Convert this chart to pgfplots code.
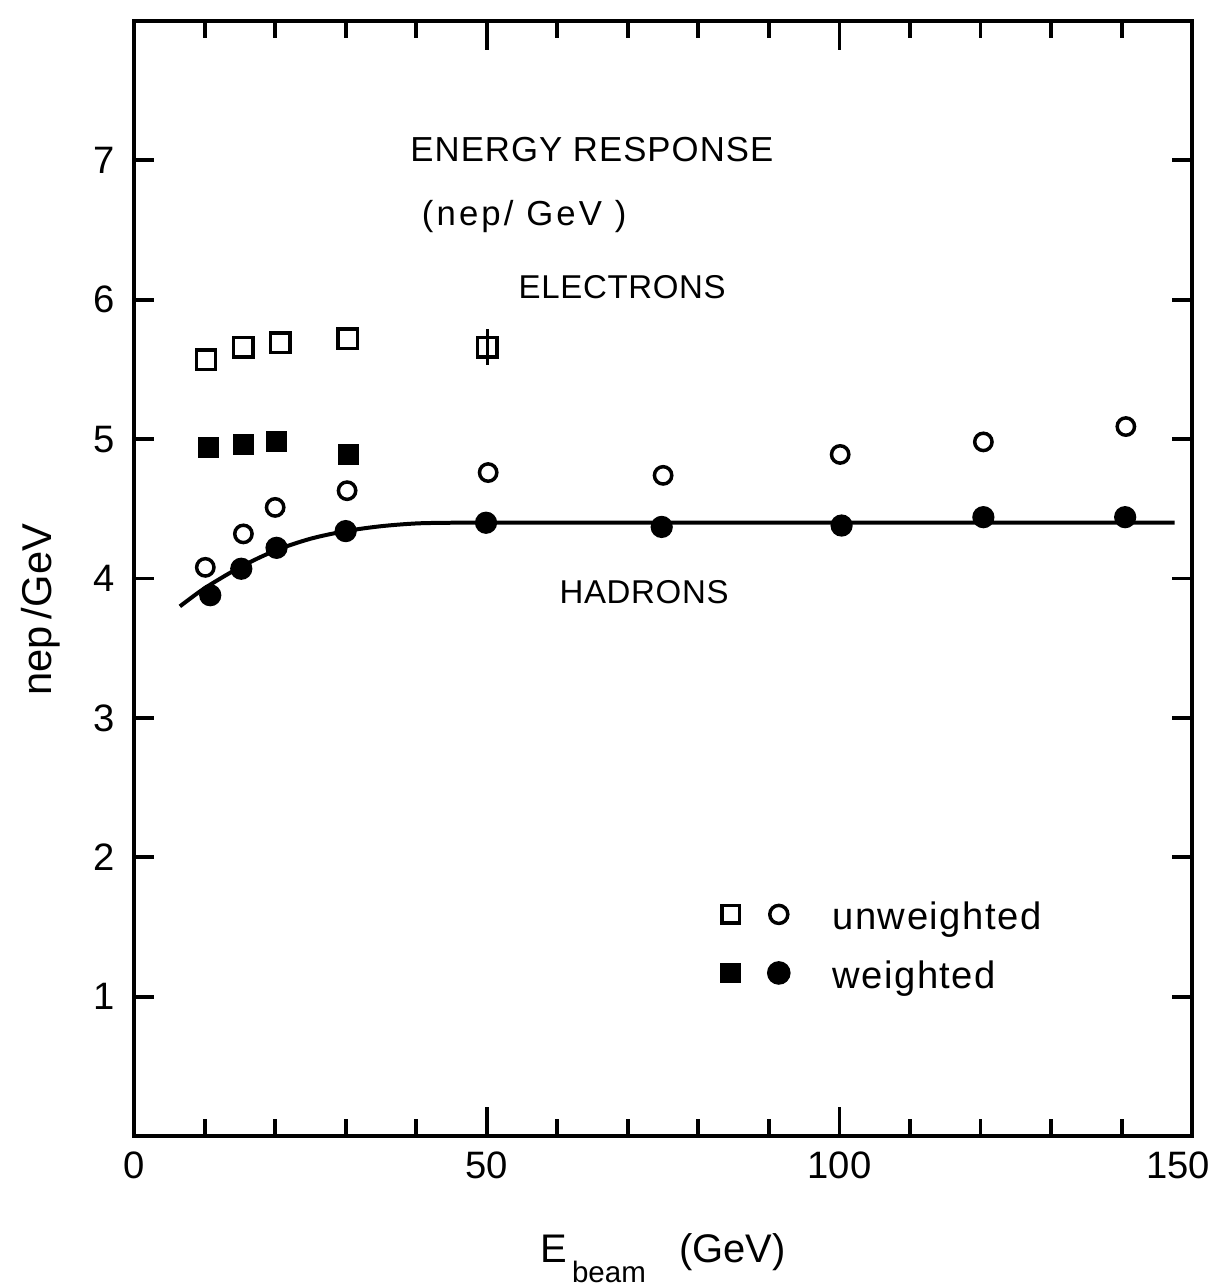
\documentclass[border=0pt]{standalone}
\usepackage{fontspec}
\setmainfont{Liberation Sans}
\usepackage{pgfplots}
\pgfplotsset{compat=1.18}
\begin{document}
\begin{tikzpicture}
\begin{axis}[
  scale only axis,
  width=304.7pt, height=321.1pt,
  xmin=0, xmax=150, ymin=0, ymax=8,
  axis line style={line width=1.2pt},
  xtick={0,150},
  xticklabels={0,\hspace*{-8pt}150},
  extra x ticks={50,100},
  extra x tick style={major tick length=8.5pt},
  minor xtick={10,20,30,40,60,70,80,90,110,120,130,140},
  ytick={1,2,3,4,5,6,7},
  tick align=inside,
  major tick length=5.8pt,
  minor tick length=5pt,
  every tick/.style={black, line width=1.1pt},
  /pgf/number format/assume math mode=true,
  tick label style={font=\fontsize{11}{13}\selectfont},
  yticklabel style={xshift=-2pt},
  xticklabel style={yshift=-1pt},
  xlabel={E\raisebox{-6pt}{\fontsize{8.5}{9}\selectfont\,beam}\ \ \ (GeV)},
  xlabel style={at={(axis description cs:0.5,0)}, anchor=base, yshift=-36.3pt, font=\fontsize{11.5}{13}\selectfont},
  ylabel={nep\,/GeV},
  ylabel style={at={(axis description cs:-0.088,0.472)}, anchor=center, font=\fontsize{12}{14}\selectfont},
  clip=false,
]
% fitted curve (hadrons, weighted)
\addplot[black, line width=1.15pt, smooth, no markers] coordinates {
  (6.5,3.80) (10,3.93) (15,4.08) (20,4.20) (25,4.285) (30,4.34) (35,4.375)
  (40,4.395) (45,4.40) (50,4.40) (75,4.40) (100,4.40) (125,4.40) (147.5,4.40)
};
% electrons unweighted
\addplot[only marks, mark=square, mark size=2.8pt, line width=1pt, black] coordinates {
  (10.2,5.57) (15.5,5.66) (20.7,5.69) (30.3,5.72)
};
\addplot[only marks, mark=square, mark size=2.8pt, line width=1pt, black,
  error bars/.cd, y dir=both, y explicit, error mark=none,
  error bar style={line width=1pt}] coordinates {
  (50.1,5.66) +- (0,0.13)
};
% electrons weighted
\addplot[only marks, mark=square*, mark size=2.85pt, black] coordinates {
  (10.6,4.94) (15.5,4.96) (20.2,4.98) (30.4,4.89)
};
% hadrons unweighted
\addplot[only marks, mark=o, mark size=2.5pt, line width=1pt, black] coordinates {
  (10.1,4.08) (15.5,4.32) (20.0,4.51) (30.2,4.63) (50.2,4.76)
  (75.0,4.74) (100.1,4.89) (120.4,4.98) (140.6,5.09)
};
% hadrons weighted
\addplot[only marks, mark=*, mark size=3.0pt, black] coordinates {
  (10.8,3.88) (15.2,4.07) (20.2,4.22) (30.0,4.34) (49.9,4.40)
  (74.8,4.37) (100.3,4.38) (120.4,4.44) (140.5,4.44)
};
% legend symbols
\addplot[only marks, mark=square, mark size=2.5pt, line width=1pt, black] coordinates {(84.6,1.59)};
\addplot[only marks, mark=o, mark size=2.6pt, line width=1pt, black] coordinates {(91.4,1.59)};
\addplot[only marks, mark=square*, mark size=2.8pt, black] coordinates {(84.6,1.17)};
\addplot[only marks, mark=*, mark size=3.2pt, black] coordinates {(91.4,1.17)};
% texts
\node[anchor=base west, inner sep=0pt, font=\fontsize{11}{13}\selectfont\addfontfeatures{LetterSpace=4}] at (axis cs:98.9,1.48) {unweighted};
\node[anchor=base west, inner sep=0pt, font=\fontsize{11}{13}\selectfont\addfontfeatures{LetterSpace=4}] at (axis cs:98.9,1.06) {weighted};
\node[font=\fontsize{10}{12}\selectfont\addfontfeatures{LetterSpace=3}] at (axis cs:64.9,7.08) {ENERGY RESPONSE};
\node[font=\fontsize{10}{12}\selectfont\addfontfeatures{LetterSpace=9}] at (axis cs:55.3,6.60) {(nep/ GeV )};
\node[font=\fontsize{9.5}{12}\selectfont\addfontfeatures{LetterSpace=2}] at (axis cs:69.2,6.09) {ELECTRONS};
\node[font=\fontsize{9.5}{12}\selectfont\addfontfeatures{LetterSpace=2}] at (axis cs:72.3,3.90) {HADRONS};
\coordinate (bbsw) at (rel axis cs:-0.1267,-0.1345);
\coordinate (bbne) at (rel axis cs:1.0217,1.0188);
\end{axis}
\pgfresetboundingbox
\useasboundingbox (bbsw) rectangle (bbne);
\end{tikzpicture}
\end{document}
